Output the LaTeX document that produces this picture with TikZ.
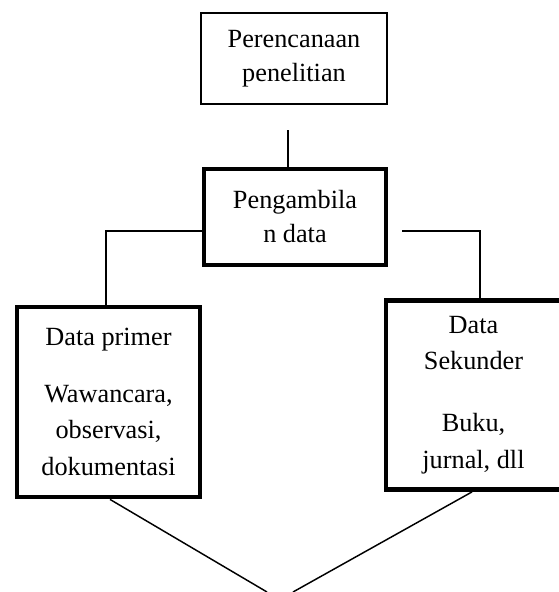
\documentclass[tikz,border=0pt]{standalone}
\usepackage{fontspec}
\setmainfont{Liberation Serif}
\begin{document}
\begin{tikzpicture}[x=0.75pt,y=-0.75pt,
  txt/.style={font=\fontsize{19.7}{25.5}\selectfont, align=center, inner sep=0pt},
  widetxt/.style={font=\fontsize{19.7}{27.5}\selectfont},
  thinbox/.style={txt, draw, line width=1.5pt},
  thickbox/.style={txt, draw, line width=3.6pt},
  conn/.style={line width=1.1pt}]
\useasboundingbox (0,0) rectangle (558,592);
\node[thinbox, minimum width=186*0.75pt, minimum height=91*0.75pt] (plan) at (294,58.5) {Perencanaan\\penelitian};
\node[thickbox, minimum width=182*0.75pt, minimum height=96*0.75pt] (take) at (295,217) {Pengambila\\n data};
\node[thickbox, widetxt, minimum width=183*0.75pt, minimum height=190*0.75pt] (prim) at (108.5,402) {Data primer\\[15pt]Wawancara,\\observasi,\\dokumentasi};
\node[thickbox, widetxt, minimum width=175*0.75pt, minimum height=189*0.75pt] (sec) at (473.5,395) {Data\\Sekunder\\[19pt]Buku,\\jurnal, dll};
\coordinate (vt) at (288,130);
\coordinate (lj) at (106,231);
\coordinate (rs) at (402,231);
\coordinate (rj) at (480,231);
\coordinate (vl) at (267,592);
\coordinate (vr) at (293,592);
\draw[conn] (vt) -- (vt |- take.north);
\draw[conn] (take.west |- lj) -- (lj) -- (lj |- prim.north);
\draw[conn] (rs) -- (rj) -- (rj |- sec.north);
\draw[conn] (prim.south -| 110,0) -- (vl);
\draw[conn] (sec.south -| 472,0) -- (vr);
\end{tikzpicture}
\end{document}
